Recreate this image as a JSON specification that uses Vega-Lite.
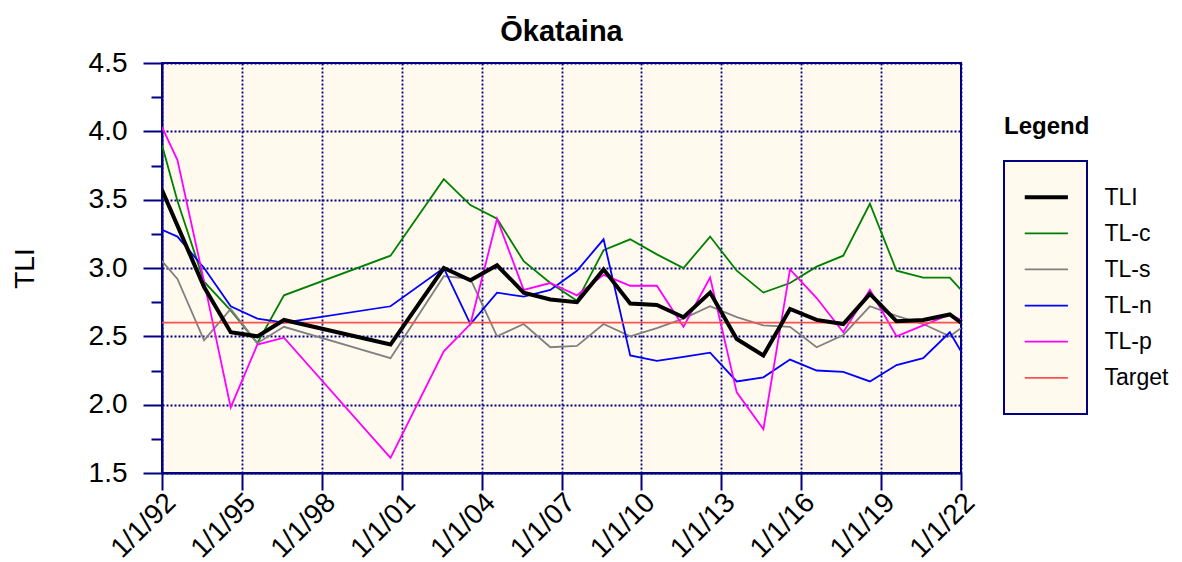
{
  "$schema": "https://vega.github.io/schema/vega-lite/v6.json",
  "background": "white",
  "padding": {"left": 10, "top": 17, "right": 5, "bottom": 5},
  "config": {
    "font": "Liberation Sans",
    "axis": {"labelColor": "black", "titleColor": "black"}
  },
  "spacing": 22,
  "resolve": {"scale": {"x": "independent", "y": "independent"}},
  "hconcat": [
    {
      "width": 799,
      "height": 410,
      "title": {"text": "Ōkataina", "fontSize": 29, "fontWeight": "bold", "color": "black", "anchor": "middle", "offset": 2},
      "view": {"fill": "#FFF9EE", "stroke": "#000080", "strokeWidth": 2},
      "data": {
        "values": [
          {"year": 1992.0, "TLI": 3.57, "TL-c": 3.90, "TL-s": 3.05, "TL-n": 3.28, "TL-p": 4.03, "Target": 2.6},
          {"year": 1992.58, "TLI": 3.31, "TL-c": 3.49, "TL-s": 2.92, "TL-n": 3.23, "TL-p": 3.79, "Target": 2.6},
          {"year": 1993.58, "TLI": 2.86, "TL-c": 2.90, "TL-s": 2.47, "TL-n": 3.00, "TL-p": 2.90, "Target": 2.6},
          {"year": 1994.58, "TLI": 2.53, "TL-c": 2.69, "TL-s": 2.70, "TL-n": 2.72, "TL-p": 1.98, "Target": 2.6},
          {"year": 1995.58, "TLI": 2.50, "TL-c": 2.45, "TL-s": 2.45, "TL-n": 2.63, "TL-p": 2.44, "Target": 2.6},
          {"year": 1996.58, "TLI": 2.62, "TL-c": 2.80, "TL-s": 2.57, "TL-n": 2.60, "TL-p": 2.49, "Target": 2.6},
          {"year": 2000.58, "TLI": 2.44, "TL-c": 3.09, "TL-s": 2.34, "TL-n": 2.72, "TL-p": 1.61, "Target": 2.6},
          {"year": 2002.58, "TLI": 3.00, "TL-c": 3.65, "TL-s": 2.94, "TL-n": 3.00, "TL-p": 2.39, "Target": 2.6},
          {"year": 2003.58, "TLI": 2.91, "TL-c": 3.46, "TL-s": 2.92, "TL-n": 2.59, "TL-p": 2.59, "Target": 2.6},
          {"year": 2004.58, "TLI": 3.02, "TL-c": 3.36, "TL-s": 2.50, "TL-n": 2.82, "TL-p": 3.36, "Target": 2.6},
          {"year": 2005.58, "TLI": 2.82, "TL-c": 3.05, "TL-s": 2.59, "TL-n": 2.79, "TL-p": 2.84, "Target": 2.6},
          {"year": 2006.58, "TLI": 2.77, "TL-c": 2.89, "TL-s": 2.42, "TL-n": 2.84, "TL-p": 2.89, "Target": 2.6},
          {"year": 2007.58, "TLI": 2.75, "TL-c": 2.76, "TL-s": 2.43, "TL-n": 2.98, "TL-p": 2.80, "Target": 2.6},
          {"year": 2008.58, "TLI": 2.99, "TL-c": 3.13, "TL-s": 2.59, "TL-n": 3.21, "TL-p": 2.95, "Target": 2.6},
          {"year": 2009.58, "TLI": 2.74, "TL-c": 3.21, "TL-s": 2.50, "TL-n": 2.36, "TL-p": 2.87, "Target": 2.6},
          {"year": 2010.58, "TLI": 2.73, "TL-c": 3.10, "TL-s": 2.56, "TL-n": 2.32, "TL-p": 2.87, "Target": 2.6},
          {"year": 2011.58, "TLI": 2.64, "TL-c": 3.00, "TL-s": 2.63, "TL-n": 2.35, "TL-p": 2.57, "Target": 2.6},
          {"year": 2012.58, "TLI": 2.82, "TL-c": 3.23, "TL-s": 2.72, "TL-n": 2.38, "TL-p": 2.93, "Target": 2.6},
          {"year": 2013.58, "TLI": 2.48, "TL-c": 2.98, "TL-s": 2.64, "TL-n": 2.17, "TL-p": 2.09, "Target": 2.6},
          {"year": 2014.58, "TLI": 2.36, "TL-c": 2.82, "TL-s": 2.58, "TL-n": 2.20, "TL-p": 1.82, "Target": 2.6},
          {"year": 2015.58, "TLI": 2.70, "TL-c": 2.89, "TL-s": 2.57, "TL-n": 2.33, "TL-p": 2.99, "Target": 2.6},
          {"year": 2016.58, "TLI": 2.62, "TL-c": 3.01, "TL-s": 2.42, "TL-n": 2.25, "TL-p": 2.78, "Target": 2.6},
          {"year": 2017.58, "TLI": 2.59, "TL-c": 3.09, "TL-s": 2.51, "TL-n": 2.24, "TL-p": 2.53, "Target": 2.6},
          {"year": 2018.58, "TLI": 2.81, "TL-c": 3.47, "TL-s": 2.72, "TL-n": 2.17, "TL-p": 2.84, "Target": 2.6},
          {"year": 2019.58, "TLI": 2.61, "TL-c": 2.98, "TL-s": 2.65, "TL-n": 2.29, "TL-p": 2.50, "Target": 2.6},
          {"year": 2020.58, "TLI": 2.62, "TL-c": 2.93, "TL-s": 2.59, "TL-n": 2.34, "TL-p": 2.58, "Target": 2.6},
          {"year": 2021.58, "TLI": 2.66, "TL-c": 2.93, "TL-s": 2.50, "TL-n": 2.53, "TL-p": 2.66, "Target": 2.6},
          {"year": 2022.0, "TLI": 2.60, "TL-c": 2.84, "TL-s": 2.56, "TL-n": 2.39, "TL-p": 2.62, "Target": 2.6}
        ]
      },
      "transform": [
        {"fold": ["TL-c", "TL-s", "TL-n", "TL-p", "Target", "TLI"], "as": ["series", "value"]}
      ],
      "mark": {"type": "line", "clip": true},
      "encoding": {
        "x": {
          "field": "year", "type": "quantitative",
          "scale": {"domain": [1992, 2022], "nice": false, "zero": false},
          "axis": {
            "title": null,
            "values": [1992, 1995, 1998, 2001, 2004, 2007, 2010, 2013, 2016, 2019, 2022],
            "labelExpr": "'1/1/' + substring(toString(datum.value), 2)",
            "labelAngle": -45, "labelAlign": "right", "labelBaseline": "middle",
            "labelFontSize": 28, "labelPadding": 8, "labelOffset": 9, "labelOverlap": false, "labelFlush": false,
            "tickSize": 17, "tickWidth": 2, "tickColor": "#000080",
            "domainColor": "#000080", "domainWidth": 2,
            "grid": true, "gridColor": "#000080", "gridDash": [2, 2], "gridWidth": 1.8, "gridOpacity": 1
          }
        },
        "y": {
          "field": "value", "type": "quantitative",
          "scale": {"domain": [1.5, 4.5], "nice": false, "zero": false},
          "axis": {
            "title": "TLI", "titleFontSize": 28, "titleFontWeight": "normal", "titlePadding": 49,
            "values": [1.5, 1.75, 2, 2.25, 2.5, 2.75, 3, 3.25, 3.5, 3.75, 4, 4.25, 4.5],
            "labelExpr": "datum.value * 2 % 1 === 0 ? format(datum.value, '.1f') : ''",
            "labelFontSize": 28, "labelPadding": 16, "labelFlush": false,
            "tickSize": {"condition": {"test": "datum.value * 2 % 1 === 0", "value": 19}, "value": 11},
            "tickWidth": 2, "tickColor": "#000080",
            "domainColor": "#000080", "domainWidth": 2,
            "grid": true, "gridColor": "#000080", "gridDash": [2, 2], "gridWidth": 1.8,
            "gridOpacity": {"condition": {"test": "datum.value * 2 % 1 === 0", "value": 1}, "value": 0}
          }
        },
        "color": {
          "field": "series", "type": "nominal",
          "scale": {"domain": ["TLI", "TL-c", "TL-s", "TL-n", "TL-p", "Target"], "range": ["#000000", "#008000", "#808080", "#0000FF", "#FF00FF", "#FF5050"]},
          "legend": null
        },
        "strokeWidth": {
          "field": "series", "type": "nominal",
          "scale": {"type": "ordinal", "domain": ["TLI", "TL-c", "TL-s", "TL-n", "TL-p", "Target"], "range": [4, 1.8, 1.8, 1.8, 1.8, 1.6]},
          "legend": null
        }
      }
    },
    {
      "spacing": 0,
      "vconcat": [
        {
          "width": 83, "height": 51,
          "view": {"stroke": null},
          "data": {"values": []},
          "mark": "point",
          "encoding": {}
        },
        {
          "width": 83, "height": 253,
          "title": {"text": "Legend", "fontSize": 24, "fontWeight": "bold", "color": "black", "anchor": "start", "offset": 22},
          "view": {"fill": "#FFF9EE", "stroke": "#000080", "strokeWidth": 2},
          "data": {"values": [{"series": "TLI"}, {"series": "TL-c"}, {"series": "TL-s"}, {"series": "TL-n"}, {"series": "TL-p"}, {"series": "Target"}]},
          "mark": "rule",
          "encoding": {
            "x": {"datum": 0.25, "type": "quantitative", "scale": {"domain": [0, 1]}, "axis": null},
            "x2": {"datum": 0.77},
            "y": {
              "field": "series", "type": "nominal", "sort": null,
              "scale": {"type": "point", "padding": 1},
              "axis": {"orient": "right", "title": null, "domain": false, "ticks": false, "grid": false, "labelFontSize": 23, "labelPadding": 17}
            },
            "color": {
              "field": "series", "type": "nominal",
              "scale": {"domain": ["TLI", "TL-c", "TL-s", "TL-n", "TL-p", "Target"], "range": ["#000000", "#008000", "#808080", "#0000FF", "#FF00FF", "#FF5050"]},
              "legend": null
            },
            "strokeWidth": {
              "field": "series", "type": "nominal",
              "scale": {"type": "ordinal", "domain": ["TLI", "TL-c", "TL-s", "TL-n", "TL-p", "Target"], "range": [4, 1.8, 1.8, 1.8, 1.8, 1.6]},
              "legend": null
            }
          }
        }
      ]
    }
  ]
}
